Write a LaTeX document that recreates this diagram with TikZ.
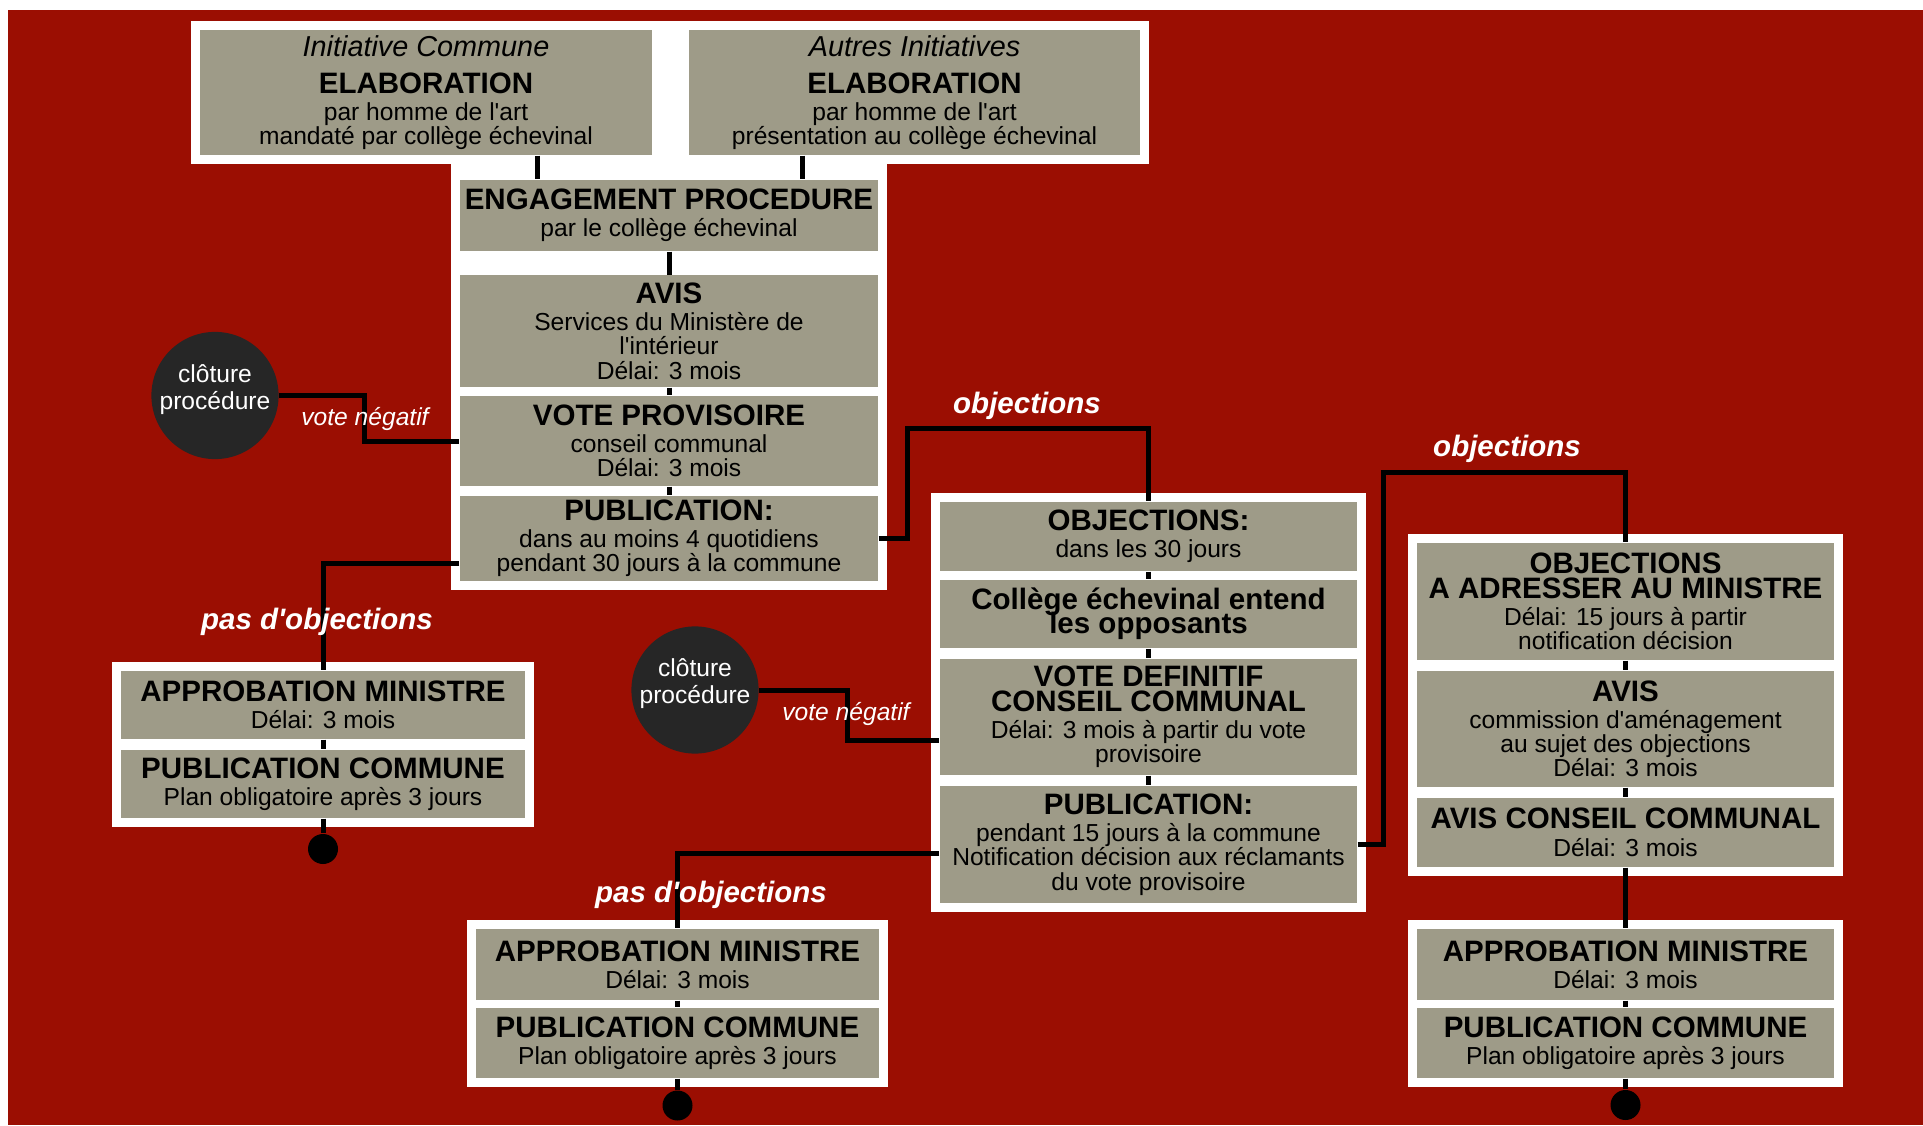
\documentclass[tikz,border=0pt]{standalone}
\usepackage{fontspec}
\setmainfont{Liberation Sans}
\usetikzlibrary{fit,calc}
\definecolor{bgred}{RGB}{155,14,2}
\definecolor{boxgray}{RGB}{158,155,136}
\definecolor{dotgray}{RGB}{38,38,38}
\newcommand{\stagehead}[1]{{\fontsize{8.4}{7}\selectfont\bfseries #1}}
\newcommand{\stageorigin}[1]{{\fontsize{8.2}{8}\selectfont\itshape #1}}
\tikzset{%
    % style for a step of the procedure (grey box)
    stage/.style={%
        fill=boxgray,
        inner sep=0pt,
        minimum width=4.18cm,
        align=center,
        font={\fontsize{7}{6.9}\selectfont\lineskiplimit=-10pt},
    },
    % style for the white panel behind a group of steps
    panel/.style={%
        fill=white,
        inner sep=0.085cm,
    },
    % style for the connecting lines
    link/.style={%
        line width=0.05cm,
        black,
    },
    % style for the dark circles (end of procedure)
    closure/.style={%
        circle,
        fill=dotgray,
        minimum size=1.25cm,
        inner sep=0pt,
        text depth=5pt,
        text=white,
        align=center,
        font=\fontsize{7}{7.7}\selectfont,
    },
    % style for the labels on the branches
    branch label/.style={%
        text=white,
        inner sep=0pt,
        font=\fontsize{8.4}{9}\selectfont\bfseries\itshape,
    },
    % alias for the small labels near the circles
    side label/.style={%
        text=white,
        inner sep=0pt,
        font=\fontsize{7}{8}\selectfont\itshape,
    },
    % style for the final points
    end point/.style={%
        circle,
        fill=black,
        minimum size=0.3cm,
        inner sep=0pt,
    },
}
\pgfdeclarelayer{canvas}
\pgfdeclarelayer{background}
\pgfsetlayers{canvas,background,main}
\newcommand{\canvaslayer}[1]{%
    \begin{pgfonlayer}{canvas}%
    #1%
    \end{pgfonlayer}%
}
\newcommand{\panellayer}[1]{%
    \begin{pgfonlayer}{background}%
    #1%
    \end{pgfonlayer}%
}
\begin{document}
\begin{tikzpicture}
    % fix the size of the picture
    \path [use as bounding box] (0,0) rectangle (19.23,11.25);
    % red background
    \canvaslayer{\fill [bgred] (0.08,0) rectangle (19.23,11.15);}
    % initiatives
    \node (ic) [stage, minimum width=4.52cm, minimum height=1.25cm] at (4.26,10.325)
        {\stageorigin{Initiative Commune}\\[3.5pt]\stagehead{ELABORATION}\\[0.8pt]
         par homme de l\textquotesingle art\\ mandaté par collège échevinal};
    \node (ai) [stage, minimum width=4.51cm, minimum height=1.25cm] at (9.145,10.325)
        {\stageorigin{Autres Initiatives}\\[3.5pt]\stagehead{ELABORATION}\\[0.8pt]
         par homme de l\textquotesingle art\\ présentation au collège échevinal};
    % first column
    \node (eng) [stage, minimum height=0.71cm] at (6.69,9.095)
        {\stagehead{ENGAGEMENT PROCEDURE}\\[0.8pt] par le collège échevinal};
    \node (avis) [stage, minimum height=1.115cm] at (6.69,7.9375)
        {\stagehead{AVIS}\\[0.8pt] Services du Ministère de\\ l\textquotesingle intérieur\\ Délai: 3 mois};
    \node (vote) [stage, minimum height=0.9cm] at (6.69,6.84)
        {\stagehead{VOTE PROVISOIRE}\\[0.8pt] conseil communal\\ Délai: 3 mois};
    \node (pub1) [stage, minimum height=0.846cm] at (6.69,5.867)
        {\stagehead{PUBLICATION:}\\[0.8pt] dans au moins 4 quotidiens\\
         pendant 30 jours à la commune};
    %% no objections, left
    \node (app1) [stage, minimum width=4.04cm, minimum height=0.68cm] at (3.23,4.2)
        {\stagehead{APPROBATION MINISTRE}\\[0.8pt] Délai: 3 mois};
    \node (pubc1) [stage, minimum width=4.04cm, minimum height=0.68cm] at (3.23,3.41)
        {\stagehead{PUBLICATION COMMUNE}\\[0.8pt] Plan obligatoire après 3 jours};
    % second column
    \node (obj) [stage, minimum width=4.17cm, minimum height=0.69cm] at (11.485,5.885)
        {\stagehead{OBJECTIONS:}\\[0.8pt] dans les 30 jours};
    \node (col) [stage, minimum width=4.17cm, minimum height=0.68cm] at (11.485,5.11)
        {\stagehead{Collège échevinal entend}\\ \stagehead{les opposants}};
    \node (vdef) [stage, minimum width=4.17cm, minimum height=1.16cm] at (11.485,4.08)
        {\stagehead{VOTE DEFINITIF}\\ \stagehead{CONSEIL COMMUNAL}\\[0.8pt]
         Délai: 3 mois à partir du vote\\ provisoire};
    \node (pub2) [stage, minimum width=4.17cm, minimum height=1.17cm] at (11.485,2.805)
        {\stagehead{PUBLICATION:}\\[0.8pt] pendant 15 jours à la commune\\
         Notification décision aux réclamants\\ du vote provisoire};
    %% no objections, middle
    \node (app2) [stage, minimum width=4.03cm, minimum height=0.71cm] at (6.775,1.605)
        {\stagehead{APPROBATION MINISTRE}\\[0.8pt] Délai: 3 mois};
    \node (pubc2) [stage, minimum width=4.03cm, minimum height=0.7cm] at (6.775,0.82)
        {\stagehead{PUBLICATION COMMUNE}\\[0.8pt] Plan obligatoire après 3 jours};
    % third column
    \node (obja) [stage, minimum width=4.17cm, minimum height=1.17cm] at (16.255,5.235)
        {\stagehead{OBJECTIONS}\\ \stagehead{A ADRESSER AU MINISTRE}\\[0.8pt]
         Délai: 15 jours à partir\\ notification décision};
    \node (avis2) [stage, minimum width=4.17cm, minimum height=1.165cm] at (16.255,3.9625)
        {\stagehead{AVIS}\\[0.8pt] commission d\textquotesingle aménagement\\ au sujet des objections\\
         Délai: 3 mois};
    \node (aviscc) [stage, minimum width=4.17cm, minimum height=0.694cm] at (16.255,2.927)
        {\stagehead{AVIS CONSEIL COMMUNAL}\\[0.8pt] Délai: 3 mois};
    \node (app3) [stage, minimum width=4.17cm, minimum height=0.71cm] at (16.255,1.605)
        {\stagehead{APPROBATION MINISTRE}\\[0.8pt] Délai: 3 mois};
    \node (pubc3) [stage, minimum width=4.17cm, minimum height=0.7cm] at (16.255,0.82)
        {\stagehead{PUBLICATION COMMUNE}\\[0.8pt] Plan obligatoire après 3 jours};
    % white panels
    \panellayer{%
        \node (p-top) [panel, fit=(ic)(ai)] {};
        \node (p-first) [panel, fit=(eng)(pub1)(eng.north |- ic.south)] {};
        \node (p-left) [panel, fit=(app1)(pubc1)] {};
        \node (p-second) [panel, fit=(obj)(pub2)] {};
        \node (p-middle) [panel, fit=(app2)(pubc2)] {};
        \node (p-third) [panel, fit=(obja)(aviscc)] {};
        \node (p-right) [panel, fit=(app3)(pubc3)] {};
    }
    % closing circles and end points
    \node (stop1) [closure] at (2.15,7.295) {clôture\\procédure};
    \node (stop2) [closure] at (6.95,4.35) {clôture\\procédure};
    \node (end1) [end point] at (3.23,2.76) {};
    \node (end2) [end point] at (6.775,0.195) {};
    \node (end3) [end point] at (16.255,0.2) {};
    % connectors
    \draw [link] ([xshift=1.11cm]ic.south) -- ([xshift=1.11cm]ic.south |- eng.north);
    \draw [link] ([xshift=-1.125cm]ai.south) -- ([xshift=-1.125cm]ai.south |- eng.north);
    \foreach \a/\b in {eng/avis, avis/vote, vote/pub1, app1/pubc1, pubc1/end1,
                       obj/col, col/vdef, vdef/pub2, app2/pubc2, pubc2/end2,
                       obja/avis2, avis2/aviscc, aviscc/app3, app3/pubc3, pubc3/end3}
        \draw [link] (\a.south) -- (\b.north);
    %% negative votes
    \draw [link] (stop1.east) -- ++(0.85,0) |- (vote.west);
    \draw [link] (stop2.east) -- ++(0.88,0) |- ([yshift=-0.23cm]vdef.west);
    %% objections
    \coordinate (o1) at (9.07,6.97);
    \draw [link] (pub1.east) -| (o1) -| (obj.north);
    \coordinate (o2) at (13.83,6.53);
    \draw [link] (pub2.east) -| (o2) -| (obja.north);
    %% no objections
    \draw [link] ([yshift=-0.25cm]pub1.west) -| (app1.north);
    \draw [link] ([yshift=-0.085cm]pub2.west) -| (app2.north);
    % descriptions
    \node (neg1) [side label] at (3.65,7.06) {vote négatif};
    \node (neg2) [side label] at (8.46,4.11) {vote négatif};
    \node (obj1) [branch label] at (10.27,7.195) {objections};
    \node (obj2) [branch label] at (15.07,6.765) {objections};
    \node (nobj1) [branch label] at (3.17,5.03) {pas d\textquotesingle objections};
    \node (nobj2) [branch label] at (7.11,2.305) {pas d\textquotesingle objections};
\end{tikzpicture}
\end{document}
